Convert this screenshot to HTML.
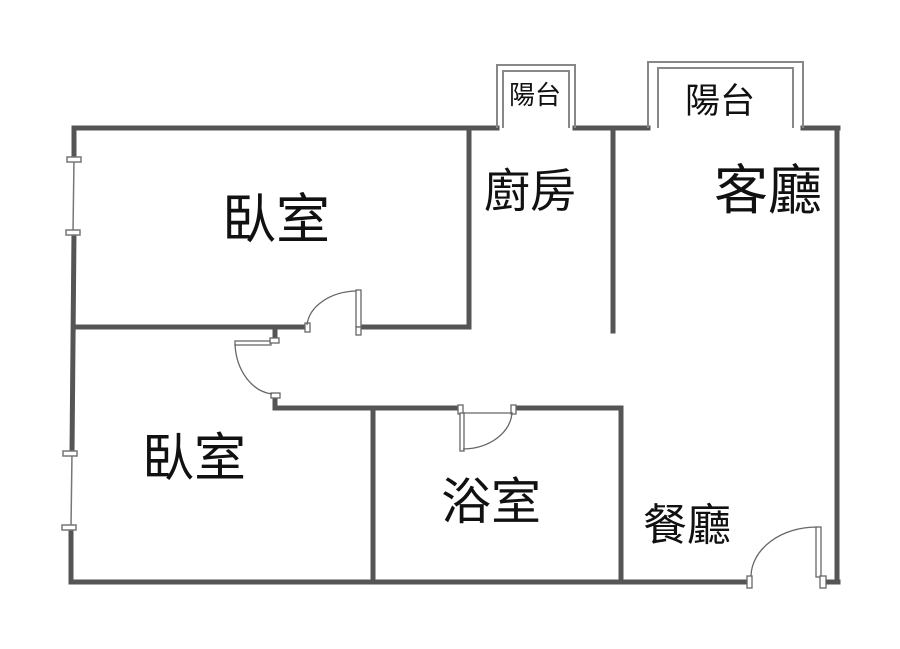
<!DOCTYPE html>
<html><head><meta charset="utf-8"><style>
html,body{margin:0;padding:0;background:#fff;}
svg{display:block}
text{font-family:"Liberation Sans","Noto Sans CJK TC",sans-serif;fill:#111;text-anchor:middle}
</style></head><body>
<svg width="900" height="649" viewBox="0 0 900 649">
<g stroke="#555" stroke-width="5" fill="none" stroke-linecap="square">
<polyline points="74,159 74,128 497,128"/>
<line x1="575" y1="128" x2="648" y2="128"/>
<line x1="803" y1="128" x2="838" y2="128"/>
<line x1="837" y1="128" x2="837" y2="582"/>
<line x1="828" y1="582" x2="838" y2="582"/>
<line x1="74" y1="232" x2="72" y2="453"/>
<polyline points="71,527 71,582 750,582"/>
<line x1="74" y1="327" x2="305" y2="327"/>
<polyline points="362,327 469,327 469,128"/>
<line x1="613" y1="128" x2="613" y2="331"/>
<line x1="275" y1="330" x2="275" y2="338"/>
<polyline points="275,398 275,408 457,408"/>
<line x1="515" y1="408" x2="621" y2="408"/>
<line x1="621" y1="408" x2="621" y2="582"/>
<line x1="373" y1="408" x2="373" y2="582"/>
</g>
<g stroke="#777" stroke-width="1.5" fill="#fff">
<line x1="74" y1="159" x2="73" y2="232"/>
<line x1="72" y1="453" x2="71" y2="527"/>
<rect x="67" y="157" width="14" height="5"/>
<rect x="66" y="230" width="14" height="5"/>
<rect x="63" y="451" width="14" height="5"/>
<rect x="62" y="525" width="14" height="5"/>
</g>
<g stroke="#888" stroke-width="2" fill="none">
<polyline points="497,128 497,65 575,65 575,128"/>
<polyline points="503,128 503,71 569,71 569,128"/>
<polyline points="648,128 648,62 803,62 803,128"/>
<polyline points="658,128 658,68 793,68 793,128"/>
</g>
<g stroke="#666" stroke-width="1.3" fill="#fff">
<rect x="356" y="290" width="5" height="37"/>
<rect x="305" y="323" width="5" height="9"/>
<rect x="356" y="327" width="5" height="8"/>
<path d="M307,325 A51,37 0 0 1 356,291" fill="none"/>
<rect x="235" y="341" width="36" height="4"/>
<rect x="270" y="338" width="9" height="5"/>
<rect x="271" y="393" width="9" height="5"/>
<path d="M235,344 A41,53 0 0 0 272,394" fill="none"/>
<rect x="458" y="405" width="5" height="9"/>
<rect x="460" y="413" width="4" height="38"/>
<rect x="511" y="405" width="5" height="9"/>
<path d="M463,449 A50,38 0 0 0 512,412" fill="none"/>
<line x1="463" y1="413" x2="512" y2="413"/>
<rect x="747" y="576" width="5" height="12"/>
<rect x="816" y="527" width="5" height="50"/>
<rect x="820" y="576" width="6" height="12"/>
<path d="M751,576 A66,50 0 0 1 817,527" fill="none"/>
</g>
<text x="276" y="238" font-size="54">臥室</text>
<text x="530" y="207" font-size="46">廚房</text>
<text x="768" y="209" font-size="54">客廳</text>
<text x="194" y="476" font-size="52">臥室</text>
<text x="491" y="519" font-size="50">浴室</text>
<text x="687" y="540" font-size="44">餐廳</text>
<text x="535" y="104" font-size="26">陽台</text>
<text x="720" y="113" font-size="35">陽台</text>
</svg>
</body></html>
